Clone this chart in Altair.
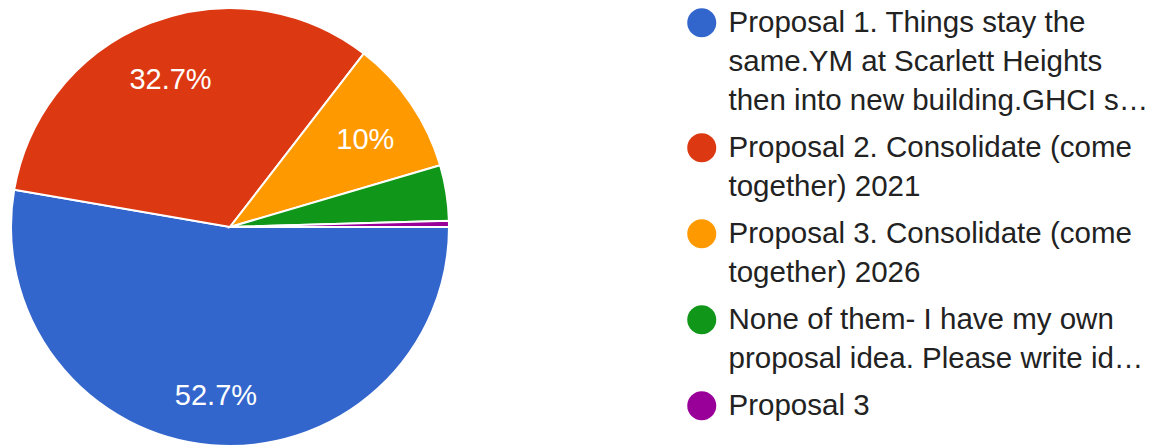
import math
import altair as alt
import pandas as pd

# --- data ---
categories = [
    "Proposal 1. Things stay the|same.YM at Scarlett Heights|then into new building.GHCI s…",
    "Proposal 2. Consolidate (come|together) 2021",
    "Proposal 3. Consolidate (come|together) 2026",
    "None of them- I have my own|proposal idea. Please write id…",
    "Proposal 3",
]
responses = [116, 72, 22, 9, 1]
colors = ["#3366cc", "#dc3912", "#ff9900", "#109618", "#990099"]

df = pd.DataFrame({"cat": categories, "n": responses, "idx": list(range(len(categories)))})

start = math.pi / 2
theta_scale = alt.Scale(range=[start, start + 2 * math.pi])
color_scale = alt.Scale(domain=categories, range=colors)

base = alt.Chart(df).transform_joinaggregate(
    total="sum(n)"
).transform_calculate(
    lbl="datum.n / datum.total > 0.05 ? format(datum.n / datum.total, '.1~%') : ''",
)

pie = base.mark_arc(radius=219, stroke="white", strokeWidth=2).encode(
    theta=alt.Theta("n:Q", stack=True, scale=theta_scale),
    color=alt.Color(
        "cat:N",
        scale=color_scale,
        legend=alt.Legend(
            title=None,
            orient="none",
            legendX=679,
            legendY=0,
            symbolType="circle",
            symbolSize=841,
            symbolStrokeWidth=0,
            labelFontSize=29.5,
            labelFont="Liberation Sans",
            labelColor="#222222",
            labelLimit=0,
            labelOffset=12,
            labelBaseline="middle",
            rowPadding=16,
            padding=0,
            labelExpr="split(datum.label, '|')",
        ),
    ),
    order=alt.Order("idx:Q"),
)

labels = base.mark_text(
    radius=164, dy=6, fontSize=29, font="Liberation Sans", color="white"
).encode(
    theta=alt.Theta("n:Q", stack=True, scale=theta_scale),
    text="lbl:N",
    order=alt.Order("idx:Q"),
)

chart = alt.layer(pie, labels).properties(
    width=444,
    height=438,
    autosize=alt.AutoSizeParams(type="none"),
    padding={"left": 0, "top": 0, "right": 705, "bottom": 0},
).configure(
    view=alt.ViewConfig(stroke="transparent"),
    style={"guide-label": {"lineHeight": 39}},
)

chart.save("out.html", embed_options={"renderer": "svg", "actions": False})
